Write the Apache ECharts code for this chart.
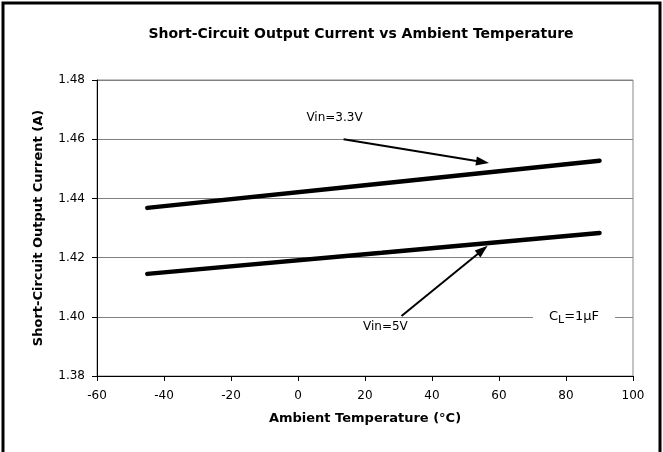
<!DOCTYPE html>
<html>
<head>
<meta charset="utf-8">
<script src="https://cdn.jsdelivr.net/npm/echarts@6/dist/echarts.min.js"></script>
<style>
  html, body { margin: 0; padding: 0; background: #fff; }
  #chart { width: 663px; height: 452px; }
</style>
</head>
<body>
<div id="chart"></div>
<script>
// Short-circuit output current measured over ambient temperature
const temperatures = [-45, 25, 90];
const vin33Current = [1.4368, 1.4450, 1.4527];
const vin5Current = [1.4145, 1.4216, 1.4283];

const xTicks = { min: -60, max: 100, step: 20 };
const yTicks = { min: 1.38, max: 1.48, step: 0.02 };

// Annotation arrows and labels, in data units (temperature, current)
const arrow33 = [[13.6, 1.4600], [55.1, 1.4523]];
const arrow5 = [[30.9, 1.4003], [55.1, 1.4226]];
const label33 = [10.9, 1.4672];
const label5 = [26.1, 1.3966];
const labelCap = [82.4, 1.4000];

const FONT = '"DejaVu Sans", "Liberation Sans", Arial, sans-serif';

const chart = echarts.init(document.getElementById('chart'), null, { renderer: 'canvas' });

function pairs(xs, ys) { return xs.map((x, i) => [x, ys[i]]); }

const arrowStyle = { color: '#000', width: 2, type: 'solid' };

chart.setOption({
  backgroundColor: '#fff',
  animation: false,
  title: {
    text: 'Short-Circuit Output Current vs Ambient Temperature',
    left: 356, top: 22, textAlign: 'center',
    textStyle: { fontFamily: FONT, fontSize: 14, fontWeight: 'bold', color: '#000' }
  },
  graphic: [{
    type: 'rect', silent: true, z: 100,
    shape: { x: 3, y: 3, width: 657, height: 470 },
    style: { fill: 'none', stroke: '#000', lineWidth: 3 }
  }],
  grid: { left: 97, right: 30, top: 80, bottom: 76, show: true, borderColor: '#888', borderWidth: 1 },
  xAxis: {
    type: 'value', min: xTicks.min, max: xTicks.max, interval: xTicks.step,
    name: 'Ambient Temperature (°C)', nameLocation: 'middle', nameGap: 36,
    nameTextStyle: { fontFamily: FONT, fontSize: 13, fontWeight: 'bold', color: '#000' },
    axisLine: { show: true, onZero: false, lineStyle: { color: '#000', width: 1 } },
    axisTick: { show: true, length: 5, inside: false, lineStyle: { color: '#000' } },
    axisLabel: { fontFamily: FONT, fontSize: 12, color: '#000', margin: 14 },
    splitLine: { show: false }
  },
  yAxis: {
    type: 'value', min: yTicks.min, max: yTicks.max, interval: yTicks.step,
    name: 'Short-Circuit Output Current (A)', nameLocation: 'middle', nameGap: 52,
    nameTextStyle: { fontFamily: FONT, fontSize: 13, fontWeight: 'bold', color: '#000' },
    axisLine: { show: true, onZero: false, lineStyle: { color: '#000', width: 1 } },
    axisTick: { show: true, length: 5, inside: false, lineStyle: { color: '#000' } },
    axisLabel: { fontFamily: FONT, fontSize: 12, color: '#000', margin: 12,
      formatter: v => v.toFixed(2) },
    splitLine: { show: true, lineStyle: { color: '#808080', width: 1 } }
  },
  series: [
    {
      name: 'Vin=3.3V', type: 'line', data: pairs(temperatures, vin33Current),
      showSymbol: false, symbol: 'none',
      lineStyle: { color: '#000', width: 4.5, cap: 'round' },
      markLine: {
        silent: true, symbol: ['none', 'triangle'], symbolSize: [9, 13],
        label: { show: false }, lineStyle: arrowStyle,
        data: [[{ coord: arrow33[0] }, { coord: arrow33[1] }]]
      },
      markPoint: {
        silent: true, symbol: 'circle', symbolSize: 0,
        data: [{ coord: label33, label: { show: true, formatter: 'Vin=3.3V',
          fontFamily: FONT, fontSize: 12, color: '#000' } }]
      }
    },
    {
      name: 'Vin=5V', type: 'line', data: pairs(temperatures, vin5Current),
      showSymbol: false, symbol: 'none',
      lineStyle: { color: '#000', width: 4.5, cap: 'round' },
      markLine: {
        silent: true, symbol: ['none', 'triangle'], symbolSize: [9, 13],
        label: { show: false }, lineStyle: arrowStyle,
        data: [[{ coord: arrow5[0] }, { coord: arrow5[1] }]]
      },
      markPoint: {
        silent: true, symbol: 'circle', symbolSize: 0,
        data: [
          { coord: label5, label: { show: true, formatter: 'Vin=5V',
            fontFamily: FONT, fontSize: 12, color: '#000' } },
          { coord: labelCap, label: { show: true, formatter: 'C{sub|L}=1μF',
            fontFamily: FONT, fontSize: 13, color: '#000',
            backgroundColor: '#fff', padding: [3, 16, 3, 16],
            rich: { sub: { fontFamily: FONT, fontSize: 11, color: '#000', verticalAlign: 'bottom', padding: [6, 0, 0, 0] } } } }
        ]
      }
    }
  ]
});
</script>
</body>
</html>
